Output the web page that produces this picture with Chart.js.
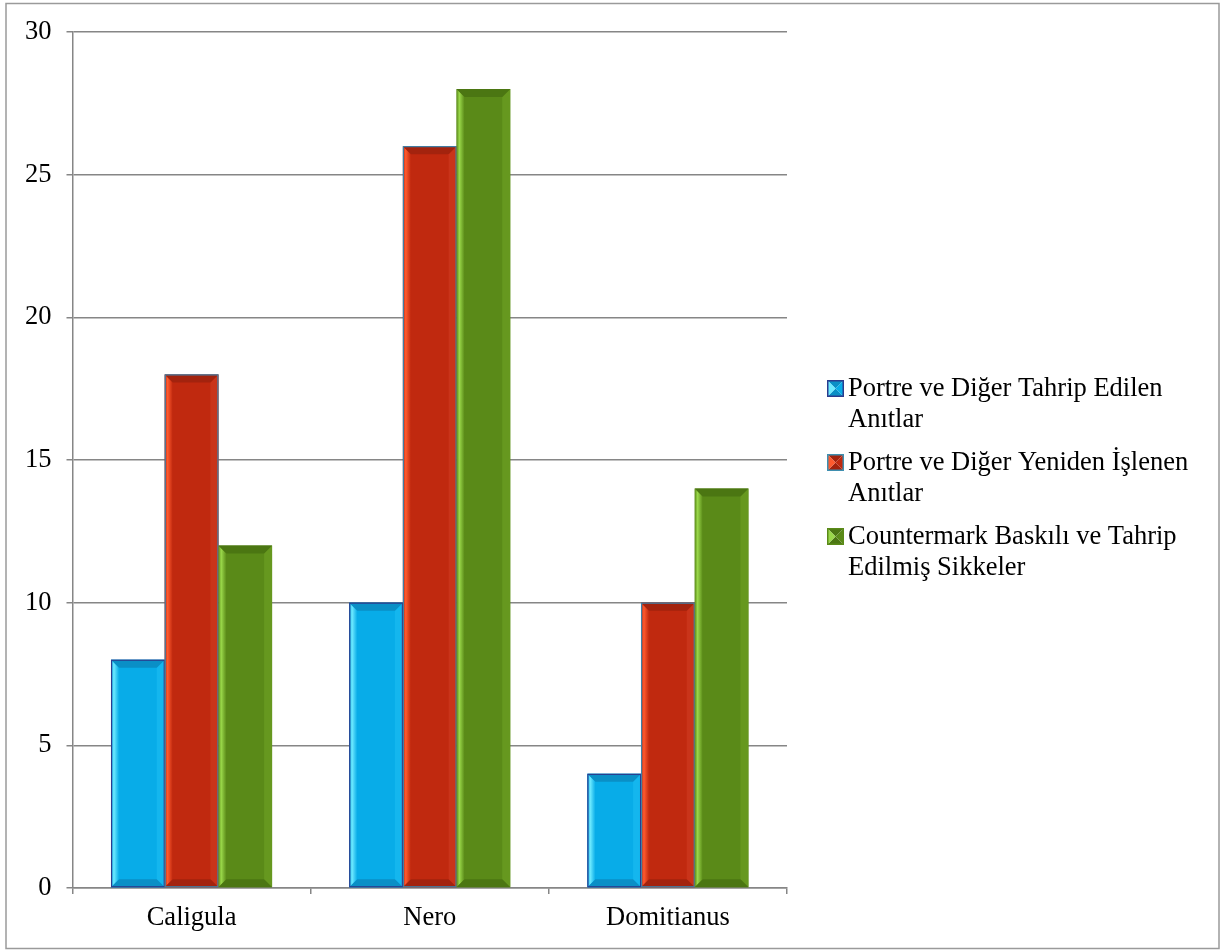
<!DOCTYPE html>
<html>
<head>
<meta charset="utf-8">
<script src="https://cdn.jsdelivr.net/npm/chart.js@4.4.1/dist/chart.umd.min.js"></script>
<style>
  html, body { margin: 0; padding: 0; background: #fff; }
  canvas { display: block; }
</style>
</head>
<body>
<canvas id="c" width="1229" height="951"></canvas>
<script>
// ---- data ----
const categories = ['Caligula', 'Nero', 'Domitianus'];
const seriesNames = [
  ['Portre ve Diğer Tahrip Edilen', 'Anıtlar'],
  ['Portre ve Diğer Yeniden İşlenen', 'Anıtlar'],
  ['Countermark Baskılı ve Tahrip', 'Edilmiş Sikkeler']
];
const destroyedMonuments = [8, 10, 4];
const reworkedMonuments = [18, 26, 10];
const countermarkedCoins = [12, 28, 14];
const yTicks = [0, 5, 10, 15, 20, 25, 30];

// ---- styles ----
const FONT = '"Liberation Serif", "Times New Roman", serif';
const palettes = [
  { main: '#08ace8', light: '#6eeaff', dark: '#0a8fc6', right: '#14b6ee', border: '#2a3c8e', legendBorder: '#2a3c8e' },
  { main: '#c0290f', light: '#ff5a2e', dark: '#a3230e', right: '#c9341a', border: '#3f7fa6', legendBorder: '#3f8fb0' },
  { main: '#5a8a18', light: '#9ad84a', dark: '#4b7612', right: '#66981f', border: null, legendBorder: '#5a8a18' }
];

const borderPlugin = {
  id: 'frame',
  beforeDraw(chart) {
    const ctx = chart.ctx;
    ctx.save();
    ctx.fillStyle = '#fff';
    ctx.fillRect(0, 0, chart.width, chart.height);
    ctx.strokeStyle = '#9a9a9a';
    ctx.lineWidth = 1.5;
    ctx.strokeRect(6, 3.5, 1213, 945);
    ctx.restore();
  }
};

const bevelPlugin = {
  id: 'bevel',
  afterDatasetsDraw(chart) {
    const ctx = chart.ctx;
    chart.data.datasets.forEach((ds, di) => {
      const meta = chart.getDatasetMeta(di);
      const p = palettes[di];
      meta.data.forEach(el => {
        const { x, y, base, width } = el.getProps(['x', 'y', 'base', 'width'], true);
        const l = x - width / 2, r = x + width / 2, t = Math.min(y, base), b = Math.max(y, base);
        const bv = 8;
        ctx.save();
        // left highlight
        const g = ctx.createLinearGradient(l, 0, l + bv, 0);
        g.addColorStop(0, p.main);
        g.addColorStop(0.35, p.light);
        g.addColorStop(1, p.main);
        ctx.fillStyle = g;
        ctx.beginPath();
        ctx.moveTo(l, t); ctx.lineTo(l + bv, t + bv); ctx.lineTo(l + bv, b - bv); ctx.lineTo(l, b); ctx.closePath();
        ctx.fill();
        // right strip
        ctx.fillStyle = p.right;
        ctx.beginPath();
        ctx.moveTo(r, t); ctx.lineTo(r - bv, t + bv); ctx.lineTo(r - bv, b - bv); ctx.lineTo(r, b); ctx.closePath();
        ctx.fill();
        // top bevel
        ctx.fillStyle = p.dark;
        ctx.beginPath();
        ctx.moveTo(l, t); ctx.lineTo(r, t); ctx.lineTo(r - bv, t + bv); ctx.lineTo(l + bv, t + bv); ctx.closePath();
        ctx.fill();
        // bottom bevel
        ctx.beginPath();
        ctx.moveTo(l, b); ctx.lineTo(r, b); ctx.lineTo(r - bv, b - bv); ctx.lineTo(l + bv, b - bv); ctx.closePath();
        ctx.fill();
        if (p.border) {
          ctx.strokeStyle = p.border;
          ctx.lineWidth = 1.2;
          ctx.strokeRect(l + 0.5, t + 0.5, width - 1, b - t - 1);
        }
        ctx.restore();
      });
    });
  }
};

const legendPlugin = {
  id: 'sideLegend',
  afterDraw(chart) {
    const ctx = chart.ctx;
    const area = chart.chartArea;
    const boxX = area.right + 40;
    const textX = boxX + 21;
    const lineH = 30.5;
    const itemH = 74;
    const firstBase = area.top + 364;
    ctx.save();
    ctx.font = '26.5px ' + FONT;
    ctx.fillStyle = '#000';
    ctx.textBaseline = 'alphabetic';
    seriesNames.forEach((lines, i) => {
      const base = firstBase + i * itemH;
      const p = palettes[i];
      const s = 17, bx = boxX, by = base - 16;
      const cx = bx + s / 2, cy = by + s / 2;
      const tri = (pts, col) => {
        ctx.fillStyle = col;
        ctx.beginPath();
        ctx.moveTo(pts[0][0], pts[0][1]);
        pts.slice(1).forEach(q => ctx.lineTo(q[0], q[1]));
        ctx.closePath();
        ctx.fill();
      };
      tri([[bx, by], [bx + s, by], [cx, cy]], p.dark);
      tri([[bx, by + s], [bx + s, by + s], [cx, cy]], p.dark);
      tri([[bx, by], [bx, by + s], [cx, cy]], p.light);
      tri([[bx + s, by], [bx + s, by + s], [cx, cy]], p.main);
      ctx.strokeStyle = p.legendBorder;
      ctx.lineWidth = 1.5;
      ctx.strokeRect(bx + 0.75, by + 0.75, s - 1.5, s - 1.5);
      ctx.fillStyle = '#000';
      lines.forEach((ln, k) => ctx.fillText(ln, textX, base + k * lineH));
    });
    ctx.restore();
  }
};

const ds = [destroyedMonuments, reworkedMonuments, countermarkedCoins].map((vals, i) => ({
  label: seriesNames[i].join(' '),
  data: vals,
  backgroundColor: palettes[i].main,
  borderWidth: 0,
  categoryPercentage: 0.676,
  barPercentage: 1.0
}));

new Chart(document.getElementById('c'), {
  type: 'bar',
  data: { labels: categories, datasets: ds },
  options: {
    responsive: false,
    devicePixelRatio: 1,
    animation: false,
    layout: { padding: { top: 32, left: 0, right: 442, bottom: 13 } },
    plugins: {
      legend: { display: false },
      tooltip: { enabled: false }
    },
    scales: {
      x: {
        grid: { display: true, drawOnChartArea: false, drawTicks: true, tickLength: 6, color: '#868686', lineWidth: 1.5, offset: true },
        border: { display: true, color: '#868686', width: 1.5 },
        ticks: { color: '#000', font: { family: FONT, size: 26.5 }, padding: 8 },
        afterFit(s) { s.height = 50; }
      },
      y: {
        min: 0, max: 30,
        afterBuildTicks(s) { s.ticks = yTicks.map(v => ({ value: v })); },
        grid: { color: '#868686', lineWidth: 1.5, tickLength: 6, drawTicks: true },
        border: { display: true, color: '#868686', width: 1.5 },
        ticks: { color: '#000', font: { family: FONT, size: 26.5 }, padding: 15 },
        afterFit(s) { s.width = 72.5; }
      }
    }
  },
  plugins: [borderPlugin, bevelPlugin, legendPlugin]
});
</script>
</body>
</html>
